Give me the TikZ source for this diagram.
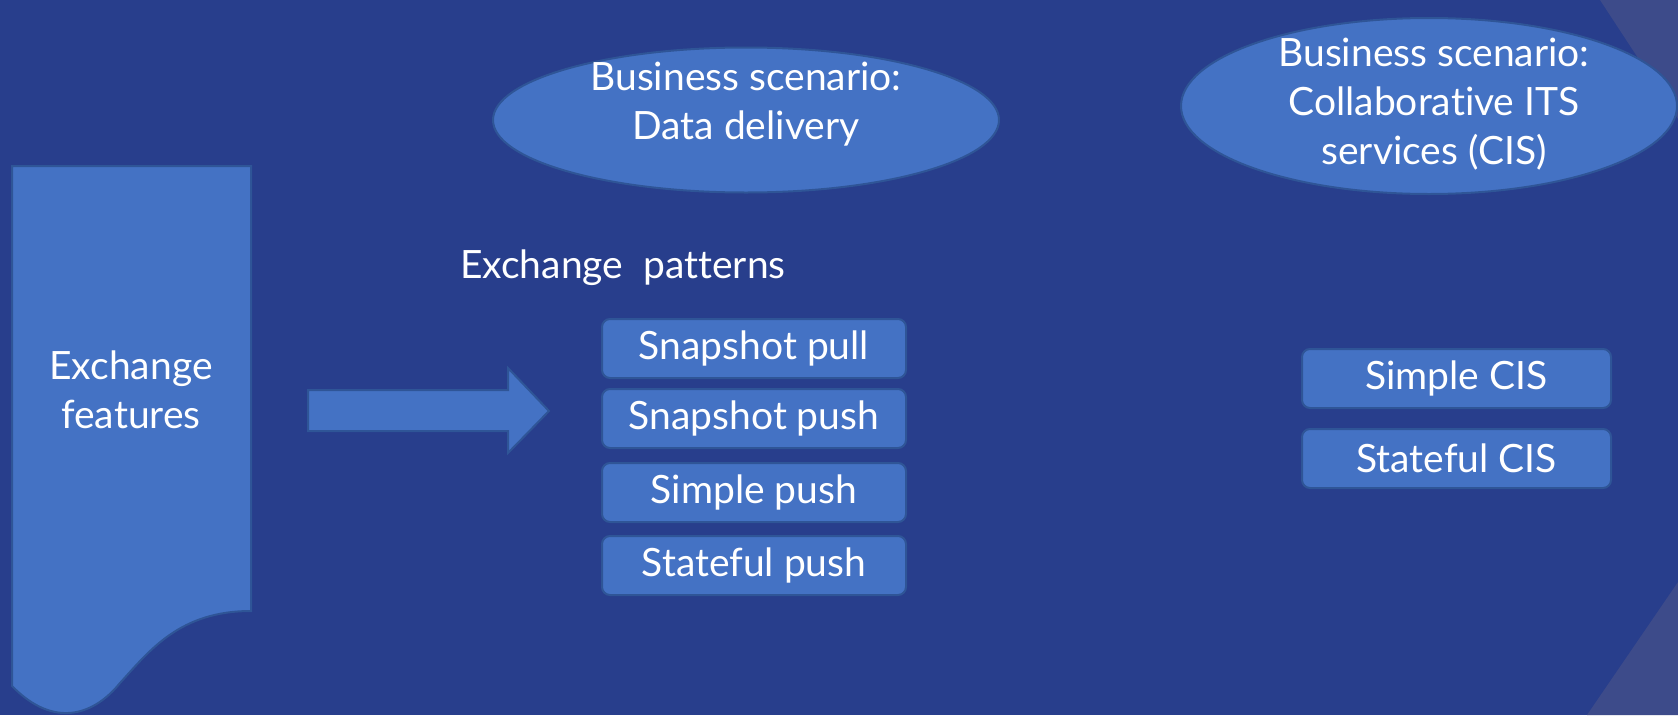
\documentclass[tikz,border=0pt]{standalone}
\usepackage{fontspec}
\setmainfont{Lato}[Ligatures={NoCommon}]
\usetikzlibrary{shapes.geometric}
\definecolor{bg}{HTML}{283E8C}
\definecolor{bglight}{HTML}{3D4B8A}
\definecolor{boxfill}{HTML}{4472C4}
\definecolor{boxline}{HTML}{2F5597}
\tikzset{
  txt/.style={text=white, font=\fontsize{39}{49}\selectfont, align=center},
  shapefill/.style={fill=boxfill, draw=boxline, line width=2pt},
  oval/.style={shapefill, ellipse, inner sep=0pt},
  pill/.style={shapefill, rounded corners=8pt, minimum width=304pt, minimum height=59pt, inner sep=0pt, txt},
}
\begin{document}
\begin{tikzpicture}[x=1pt,y=-1pt]
\useasboundingbox (0,0) rectangle (1678,715);
\fill[bg] (0,0) rectangle (1678,715);
\fill[bglight] (1600,0) -- (1678,0) -- (1678,119) -- cycle;
\fill[bglight] (1587,715) -- (1678,715) -- (1678,582) -- cycle;

% document shape
\draw[shapefill] (12,166) -- (251,166) -- (251,611)
  .. controls (180,611) and (150,650) .. (120,683)
  .. controls (95,714) and (55,730) .. (12,686) -- cycle;
\node[txt] (feat) at (131,390) {Exchange\\features};

% block arrow
\draw[shapefill] (308,390) -- (508,390) -- (508,368) -- (549,411) -- (508,453) -- (508,431) -- (308,431) -- cycle;

\node[oval, minimum width=506pt, minimum height=145pt] (dd) at (746,120) {};
\node[txt] (ddtext) at (746,104) {Business scenario:\\Data delivery};
\node[oval, minimum width=496pt, minimum height=176pt] (cis) at (1429,106) {};
\node[txt] (cistext) at (1434,104) {Business scenario:\\Collaborative ITS\\services (CIS)};

\node[txt, anchor=base west, inner sep=0pt] (pat) at (460,278) {Exchange\ \ patterns};

\node[pill] (sp1) at (754,348.5) {Snapshot pull};
\node[pill] (sp2) at (754,418.5) {Snapshot push};
\node[pill] (sp3) at (754,492.5) {Simple push};
\node[pill] (sp4) at (754,565.5) {Stateful push};

\node[pill, minimum width=309pt] (c1) at (1456.5,378.5) {Simple CIS};
\node[pill, minimum width=309pt] (c2) at (1456.5,458.5) {Stateful CIS};
\end{tikzpicture}
\end{document}
